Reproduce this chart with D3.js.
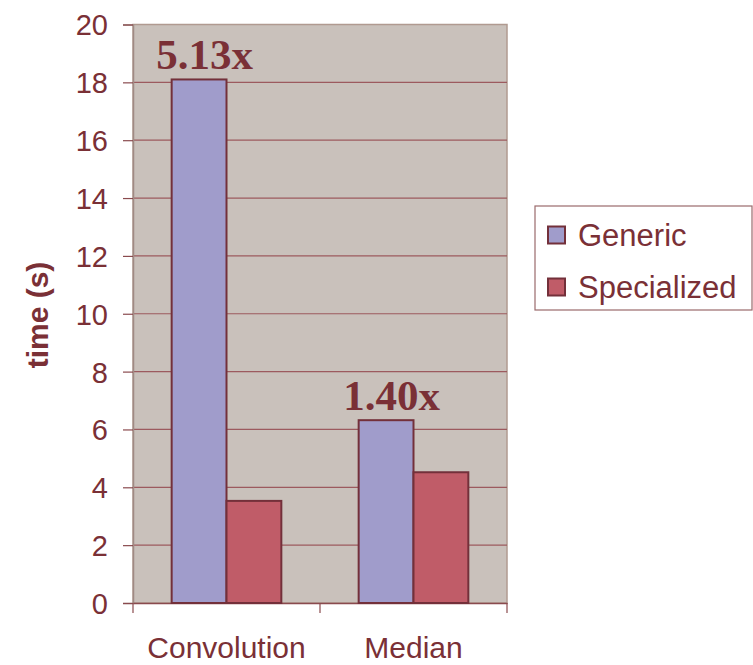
<!DOCTYPE html>
<html>
<head>
<meta charset="utf-8">
<script src="https://cdn.jsdelivr.net/npm/d3@7"></script>
<style>
  html, body { margin: 0; padding: 0; background: #fff; }
  svg { display: block; }
</style>
</head>
<body>
<svg id="chart" width="753" height="665"></svg>
<script>
// Benchmark timings (seconds)
const categories = ["Convolution", "Median"];
const seriesNames = ["Generic", "Specialized"];
const genericTimes = [18.1, 6.32];
const specializedTimes = [3.53, 4.52];
const speedupLabels = ["5.13x", "1.40x"];
const yTicks = [0, 2, 4, 6, 8, 10, 12, 14, 16, 18, 20];

const colors = { Generic: "#a09ccb", Specialized: "#c05c68" };
const ink = "#7a3036";
const sans = "Liberation Sans, Arial, sans-serif";

const svg = d3.select("#chart");
const plot = { left: 133, right: 507, top: 24.5, bottom: 603 };

const x = d3.scaleBand().domain(categories).range([plot.left, plot.right]);
const inner = d3.scaleBand().domain(seriesNames).range([0, x.bandwidth()]).paddingInner(0).paddingOuter(0.705);
const y = d3.scaleLinear().domain([0, 20]).range([plot.bottom, plot.top]);

// plot background
svg.append("rect")
  .attr("x", plot.left).attr("y", plot.top)
  .attr("width", plot.right - plot.left).attr("height", plot.bottom - plot.top)
  .attr("fill", "#c9c1bb").attr("stroke", "#b09a90").attr("stroke-width", 1.5);

// gridlines
svg.append("g").selectAll("line").data(yTicks.filter(t => t > 0 && t < 20)).join("line")
  .attr("x1", plot.left).attr("x2", plot.right)
  .attr("y1", d => y(d)).attr("y2", d => y(d))
  .attr("stroke", "#9c5a5e").attr("stroke-width", 1.2);

// y axis
const yAxis = svg.append("g").attr("transform", `translate(${plot.left},0)`)
  .call(d3.axisLeft(y).tickValues(yTicks).tickSize(10).tickPadding(15));
yAxis.select(".domain").attr("stroke", "#a08a84").attr("stroke-width", 1.5);
yAxis.selectAll(".tick line").attr("stroke", "#8a4a4e").attr("stroke-width", 1.2);
yAxis.selectAll(".tick text")
  .attr("fill", ink).attr("font-family", sans)
  .attr("font-size", 29).attr("dy", "0.36em");

// x axis
const xAxis = svg.append("g").attr("transform", `translate(0,${plot.bottom})`)
  .call(d3.axisBottom(x).tickSize(0).tickPadding(0));
xAxis.select(".domain").attr("stroke", "#8a4a4e").attr("stroke-width", 1.5);
xAxis.selectAll(".tick text")
  .attr("fill", ink).attr("font-family", sans)
  .attr("font-size", 30).attr("dy", null).attr("y", 55);
// category separators below the axis
const sep = [plot.left, ...categories.slice(1).map(c => x(c)), plot.right];
svg.append("g").selectAll("line").data(sep).join("line")
  .attr("x1", d => d).attr("x2", d => d)
  .attr("y1", plot.bottom).attr("y2", plot.bottom + 10)
  .attr("stroke", "#8a4a4e").attr("stroke-width", 1.2);

// bars
const rows = categories.map((c, i) => ({ cat: c, Generic: genericTimes[i], Specialized: specializedTimes[i], label: speedupLabels[i] }));
const groups = svg.append("g").selectAll("g").data(rows).join("g")
  .attr("transform", d => `translate(${x(d.cat)},0)`);
groups.selectAll("rect").data(d => seriesNames.map(s => ({ s, v: d[s] }))).join("rect")
  .attr("x", d => inner(d.s)).attr("width", inner.bandwidth())
  .attr("y", d => y(d.v)).attr("height", d => y(0) - y(d.v))
  .attr("fill", d => colors[d.s]).attr("stroke", "#73303a").attr("stroke-width", 2);

// speedup annotations above generic bars
groups.append("text")
  .attr("x", inner("Generic") + inner.bandwidth() * 0.6)
  .attr("y", d => y(d.Generic) - 10)
  .attr("text-anchor", "middle")
  .attr("font-family", "Liberation Serif, Times New Roman, serif")
  .attr("font-weight", "bold").attr("font-size", 43)
  .attr("fill", ink)
  .text(d => d.label);

// y axis title
svg.append("text")
  .attr("transform", `translate(48,315) rotate(-90)`)
  .attr("text-anchor", "middle")
  .attr("font-family", sans)
  .attr("font-weight", "bold").attr("font-size", 30)
  .attr("fill", ink)
  .text("time (s)");

// legend
const legend = svg.append("g");
legend.append("rect")
  .attr("x", 535).attr("y", 206).attr("width", 217).attr("height", 104)
  .attr("fill", "#fff").attr("stroke", "#9a6a6c").attr("stroke-width", 1.2);
const items = legend.selectAll("g").data(seriesNames).join("g")
  .attr("transform", (d, i) => `translate(548,${235 + i * 52})`);
items.append("rect")
  .attr("x", 0).attr("y", -8.5).attr("width", 17).attr("height", 17)
  .attr("fill", d => colors[d]).attr("stroke", "#73303a").attr("stroke-width", 2);
items.append("text")
  .attr("x", 30).attr("y", 0).attr("dy", "0.36em")
  .attr("font-family", sans)
  .attr("font-size", 31).attr("fill", ink)
  .text(d => d);
</script>
</body>
</html>
